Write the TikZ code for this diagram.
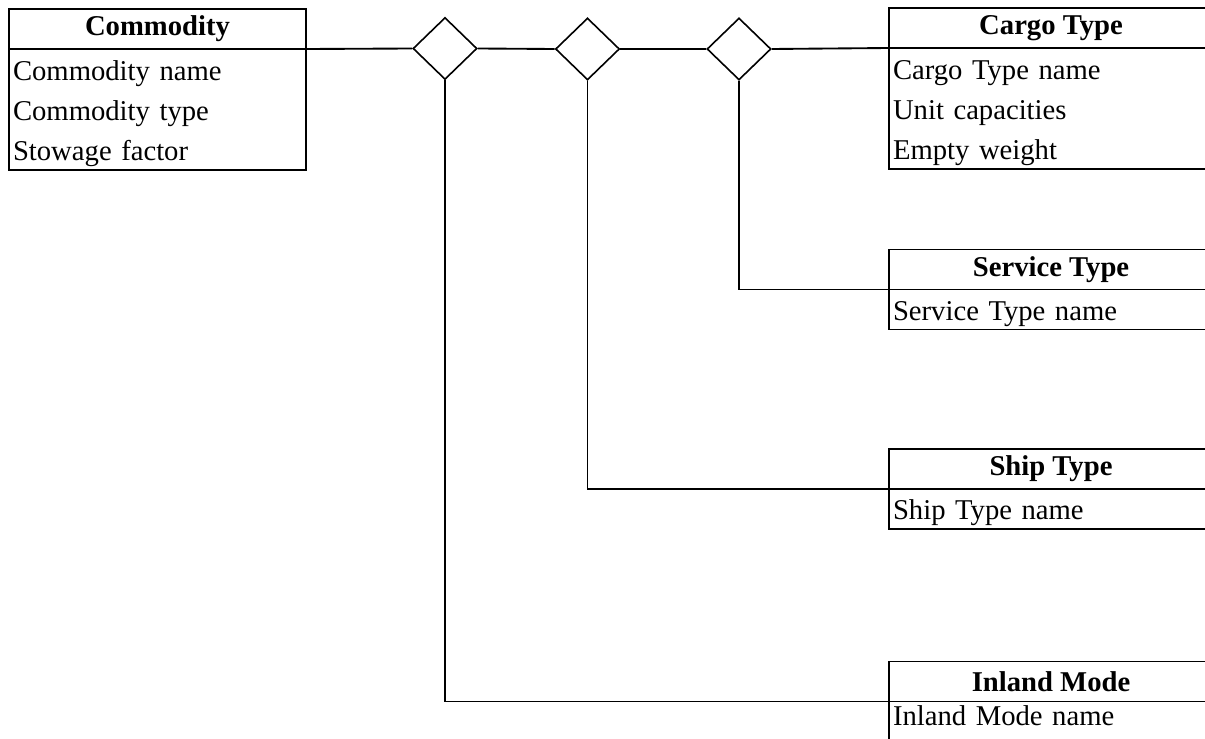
\documentclass[tikz,border=0pt]{standalone}
\usepackage{fontspec}
\setmainfont{Liberation Serif}
\usetikzlibrary{positioning,shapes.geometric}

\begin{document}
\begin{tikzpicture}[x=0.75pt, y=-0.75pt, line width=1.4pt,
    font=\fontsize{21.5}{30}\selectfont,
    head/.style={draw, rectangle, minimum height=30pt, inner sep=0pt, outer sep=0pt, font=\fontsize{21.5}{30}\selectfont\bfseries},
    body/.style={draw, rectangle, align=left, inner xsep=3pt, inner ysep=0pt, outer sep=0pt, execute at begin node=\rule{0pt}{21pt}},
    rel/.style={draw, diamond, minimum width=48pt, minimum height=46.5pt, inner sep=0pt, line width=1.2pt}]
    \useasboundingbox (0,0) rectangle (1205,738);
    \clip (0,0) rectangle (1205,738);

    % entities
    \node[head, minimum width=222.75pt] at (157.5,29) (commodity) {Commodity};
    \node[body, text width=216.75pt, minimum height=90.75pt, below=0pt of commodity] (commoditybody) {Commodity name\\Commodity type\\Stowage factor};

    \node[head, minimum width=243pt] at (1051,28) (cargo) {Cargo Type};
    \node[body, text width=237pt, minimum height=90.75pt, below=0pt of cargo] (cargobody) {Cargo Type name\\Unit capacities\\Empty weight};

    \node[head, minimum width=243pt] at (1051,269.5) (service) {Service Type};
    \node[body, text width=237pt, minimum height=30pt, below=0pt of service] (servicebody) {Service Type name};

    \node[head, minimum width=243pt] at (1051,469) (ship) {Ship Type};
    \node[body, text width=237pt, minimum height=30pt, below=0pt of ship] (shipbody) {Ship Type name};

    % last box runs off the page
    \node[head, minimum width=243pt] at (1051,681.5) (inland) {Inland Mode};
    \node[rectangle, align=left, inner xsep=3pt, inner ysep=0pt, outer sep=0pt, text width=237pt, minimum height=21pt, below=0pt of inland] (inlandbody) {Inland Mode name};
    \draw (inland.south west) -- ++(0,60);

    % relationships
    \node[rel] at (445,48.5) (relA) {};
    \node[rel] at (587.5,49) (relB) {};
    \node[rel] at (739,49) (relC) {};

    \draw (commodity.south east) -- (relA.west);
    \draw (relA.east) -- (relB.west);
    \draw (relB.east) -- (relC.west);
    \draw (relC.east) -- (cargo.south west);

    \draw (relC.south) |- (service.south west);
    \draw (relB.south) |- (ship.south west);
    \draw (relA.south) |- (inland.south west);
\end{tikzpicture}
\end{document}
